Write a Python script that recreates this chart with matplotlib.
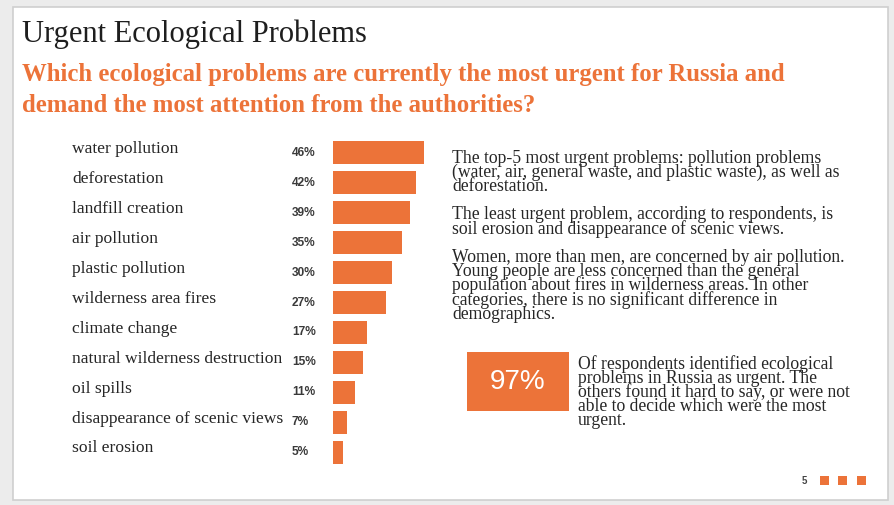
import matplotlib.pyplot as plt
from matplotlib.patches import Rectangle
from matplotlib import transforms

# Survey results
problems = ["water pollution", "deforestation", "landfill creation", "air pollution",
            "plastic pollution", "wilderness area fires", "climate change",
            "natural wilderness destruction", "oil spills",
            "disappearance of scenic views", "soil erosion"]
shares = [46, 42, 39, 35, 30, 27, 17, 15, 11, 7, 5]

title = "Urgent Ecological Problems"
question = ("Which ecological problems are currently the most urgent for Russia and\n"
            "demand the most attention from the authorities?")
notes = [
    "The top-5 most urgent problems: pollution problems\n"
    "(water, air, general waste, and plastic waste), as well as\n"
    "deforestation.",
    "The least urgent problem, according to respondents, is\n"
    "soil erosion and disappearance of scenic views.",
    "Women, more than men, are concerned by air pollution.\n"
    "Young people are less concerned than the general\n"
    "population about fires in wilderness areas. In other\n"
    "categories, there is no significant difference in\n"
    "demographics.",
]
total_share = 97
total_note = ("Of respondents identified ecological\n"
              "problems in Russia as urgent. The\n"
              "others found it hard to say, or were not\n"
              "able to decide which were the most\n"
              "urgent.")
page_no = "5"

ORANGE = "#ec7339"
TEXT = "#262626"
SERIF = ["Liberation Serif", "DejaVu Serif"]
SANS = ["Liberation Sans", "DejaVu Sans"]

W, H = 894, 505
fig = plt.figure(figsize=(W / 100, H / 100), dpi=100)
fig.patch.set_facecolor("#ececec")


def px(x, y):
    # pixel position (from top-left) -> figure fraction
    return x / W, 1 - y / H


# white slide card
card = Rectangle(px(13, 500), (888 - 13) / W, (500 - 7) / H, transform=fig.transFigure,
                 facecolor="white", edgecolor="#cfcfcf", linewidth=1.2, zorder=-5)
fig.patches.append(card)

fig.text(*px(22, 34), title, family=SERIF, fontsize=22, color="#1e1e1e", va="center")
fig.text(*px(22, 90), question, family=SERIF, fontsize=17.8, fontweight="bold",
         color=ORANGE, va="center", linespacing=1.45)

# bar chart
ax_l, ax_r, ax_t, ax_b = 333, 333 + 99, 138, 467
ax = fig.add_axes([ax_l / W, 1 - ax_b / H, (ax_r - ax_l) / W, (ax_b - ax_t) / H])
ax.set_zorder(2)
ypos = list(range(len(problems)))
ax.barh(ypos, shares, height=0.77, color=ORANGE)
ax.set_xlim(0, 50)
ax.set_ylim(len(problems) - 0.5, -0.5)
ax.axis("off")

trans = transforms.blended_transform_factory(fig.transFigure, ax.transData)
for y, name, v in zip(ypos, problems, shares):
    ax.text(72 / W, y - 0.12, name, transform=trans, family=SERIF, fontsize=12.6,
            color=TEXT, va="center", ha="left", clip_on=False)
    ax.text(292 / W, y, f"{v}%", transform=trans, family=SANS, fontsize=8.6,
            fontweight="bold", color="#3a3a3a", va="center", ha="left", clip_on=False)

# commentary on the right
for top, para in zip([150, 206, 249], notes):
    fig.text(*px(452, top), para, family=SERIF, fontsize=12.7, color=TEXT,
             va="top", linespacing=0.76)

# highlight box
box = Rectangle(px(467, 411), (569 - 467) / W, (411 - 352) / H, transform=fig.transFigure,
                facecolor=ORANGE, edgecolor="none")
fig.patches.append(box)
fig.text(*px(518, 382), f"{total_share}%", family=SANS, fontsize=20, color="white",
         ha="center", va="center")
fig.text(*px(578, 355), total_note, family=SERIF, fontsize=12.7, color=TEXT,
         va="top", linespacing=0.76)

# footer: page number and squares
fig.text(*px(804, 481), page_no, family=SANS, fontsize=7, fontweight="bold",
         color="#444444", ha="center", va="center")
for x0 in [820, 838, 857]:
    sq = Rectangle(px(x0, 485), 9 / W, 9 / H, transform=fig.transFigure,
                   facecolor=ORANGE, edgecolor="none")
    fig.patches.append(sq)

fig.savefig("out.png", dpi=100, facecolor=fig.get_facecolor())
